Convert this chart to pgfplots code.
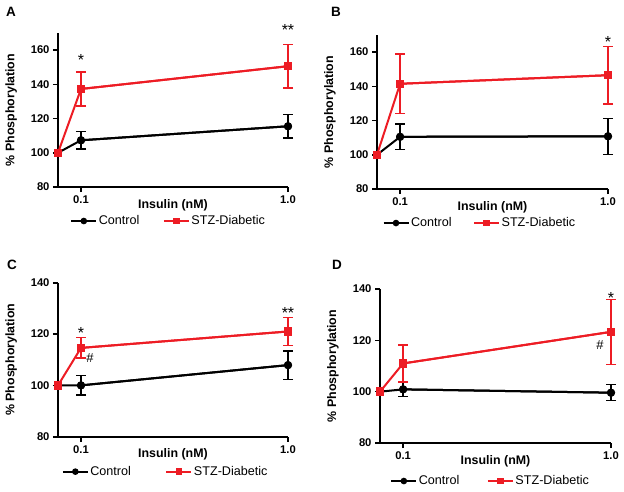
\documentclass[border=0pt]{standalone}
\usepackage{pgfplots}
\pgfplotsset{compat=1.18}
\usepackage{fontspec}
\setmainfont{Liberation Sans}
\definecolor{stzred}{RGB}{237,28,36}
\pgfplotsset{
  panel/.style={
    scale only axis, width=230pt, height=154pt,
    axis x line*=bottom, axis y line*=left,
    every outer x axis line/.append style={-},
    every outer y axis line/.append style={-},
    axis line style={-, line width=1.9pt, black},
    xmin=0, xmax=1,
    xtick={0.1,1}, xticklabels={0.1,1.0},
    tick align=outside, major tick length=5pt,
    tick style={line width=1.6pt, black},
    /pgf/number format/assume math mode=true,
    ticklabel style={font=\bfseries\fontsize{11.2}{12}\selectfont},
    xlabel={Insulin (nM)}, ylabel={\% Phosphorylation},
    label style={font=\bfseries\fontsize{12.4}{13}\selectfont},
    xlabel style={at={(axis description cs:0.5,0)}, anchor=center, yshift=-18pt},
    ylabel style={at={(axis description cs:-0.204,0.5)}, anchor=center},
    clip=false,
    legend columns=2,
    legend style={draw=none, fill=none, anchor=center,
      font=\fontsize{12.6}{14}\selectfont, cells={anchor=west},
      nodes={inner sep=1.5pt}},
    legend image code/.code={\draw[mark repeat=2, mark phase=2, #1, mark options={scale=0.75}]
      plot coordinates {(0pt,0pt) (12.5pt,0pt) (25pt,0pt)};},
  },
  ctrl/.style={black, line width=2pt, mark=*, mark size=3pt, mark options={solid, fill=black}},
  stz/.style={stzred, line width=2pt, mark=square*, mark size=3.2pt, mark options={solid, fill=stzred}},
  ebar/.style={forget plot, error bars/.cd, y dir=both, y explicit,
    error bar style={line width=1.4pt},
    error mark options={rotate=90, mark size=5pt, line width=1.4pt}},
}
\tikzset{ann/.style={font=\fontsize{16}{16}\selectfont, anchor=center, yshift=-3pt},
         hash/.style={font=\fontsize{13}{14}\selectfont, anchor=center}}
\begin{document}
\begin{tikzpicture}[x=1pt,y=1pt]
\path[use as bounding box] (0,0) rectangle (624,491);
\node[font=\bfseries\fontsize{13.5}{14}\selectfont] at (11,479) {A};
\node[font=\bfseries\fontsize{13.5}{14}\selectfont] at (336,479) {B};
\node[font=\bfseries\fontsize{13.5}{14}\selectfont] at (12,226) {C};
\node[font=\bfseries\fontsize{13.5}{14}\selectfont] at (337,226) {D};

% Panel A
\begin{axis}[panel, at={(58pt,304pt)}, anchor=origin,
  ymin=80, ymax=170, ytick={80,100,120,140,160},
  legend style={at={(0.48,-0.221)}, /tikz/every even column/.append style={column sep=22pt}}]
\addplot[ctrl] coordinates {(0,100) (0.1,107.3) (1,115.5)};
\addlegendentry{Control}
\addplot[ctrl, ebar] coordinates {(0.1,107.3) +- (0,5.0) (1,115.5) +- (0,6.8)};
\addplot[stz] coordinates {(0,100) (0.1,137.3) (1,150.6)};
\addlegendentry{STZ-Diabetic}
\addplot[stz, ebar] coordinates {(0.1,137.3) +- (0,9.9) (1,150.6) +- (0,12.8)};
\node[ann] at (axis cs:0.1,156) {*};
\node[ann] at (axis cs:1,173.8) {**};
\end{axis}

% Panel B
\begin{axis}[panel, at={(377pt,302pt)}, anchor=origin, width=231pt,
  ymin=80, ymax=170, ytick={80,100,120,140,160},
  legend style={at={(0.444,-0.221)}, /tikz/every even column/.append style={column sep=20pt}}]
\addplot[ctrl] coordinates {(0,100) (0.1,110.5) (1,110.8)};
\addlegendentry{Control}
\addplot[ctrl, ebar] coordinates {(0.1,110.5) +- (0,7.5) (1,110.8) +- (0,10.5)};
\addplot[stz] coordinates {(0,100) (0.1,141.5) (1,146.5)};
\addlegendentry{STZ-Diabetic}
\addplot[stz, ebar] coordinates {(0.1,141.5) +- (0,17.5) (1,146.5) +- (0,16.8)};
\node[ann] at (axis cs:1,167.8) {*};
\end{axis}

% Panel C
\begin{axis}[panel, at={(58pt,54.3pt)}, anchor=origin,
  ymin=80, ymax=140, ytick={80,100,120,140},
  legend style={at={(0.467,-0.227)}, /tikz/every even column/.append style={column sep=33pt}}]
\addplot[ctrl] coordinates {(0,100) (0.1,100.0) (1,107.9)};
\addlegendentry{Control}
\addplot[ctrl, ebar] coordinates {(0.1,100.0) +- (0,3.8) (1,107.9) +- (0,5.5)};
\addplot[stz] coordinates {(0,100) (0.1,114.6) (1,121.0)};
\addlegendentry{STZ-Diabetic}
\addplot[stz, ebar] coordinates {(0.1,114.6) +- (0,4.0) (1,121.0) +- (0,5.5)};
\node[ann] at (axis cs:0.1,121.6) {*};
\node[hash] at (axis cs:0.139,110.8) {\#};
\node[ann] at (axis cs:1,129.4) {**};
\end{axis}

% Panel D
\begin{axis}[panel, at={(380pt,48pt)}, anchor=origin, width=231pt,
  ymin=80, ymax=140, ytick={80,100,120,140},
  legend style={at={(0.478,-0.247)}, /tikz/every even column/.append style={column sep=26pt}}]
\addplot[ctrl] coordinates {(0,100) (0.1,100.9) (1,99.6)};
\addlegendentry{Control}
\addplot[ctrl, ebar] coordinates {(0.1,100.9) +- (0,2.7) (1,99.6) +- (0,3.1)};
\addplot[stz] coordinates {(0,100) (0.1,111.0) (1,123.3)};
\addlegendentry{STZ-Diabetic}
\addplot[stz, ebar] coordinates {(0.1,111.0) +- (0,7.2) (1,123.3) +- (0,12.6)};
\node[ann] at (axis cs:1,137.8) {*};
\node[hash] at (axis cs:0.952,118.3) {\#};
\end{axis}
\end{tikzpicture}
\end{document}
